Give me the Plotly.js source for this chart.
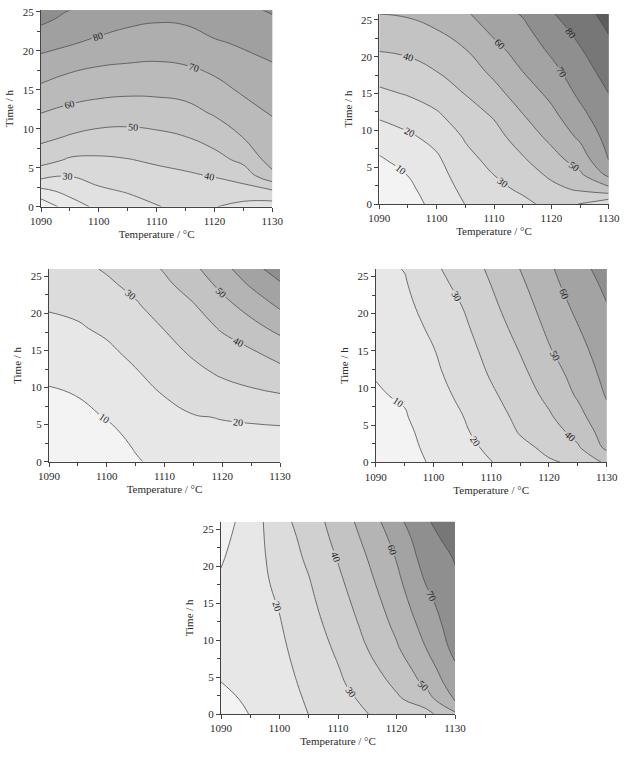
<!DOCTYPE html>
<html>
<head>
<meta charset="utf-8">
<script src="https://cdn.plot.ly/plotly-3.0.1.min.js"></script>
<style>html,body{margin:0;padding:0;background:#fff;}#chart{width:632px;height:768px;}</style>
</head>
<body>
<div id="chart"></div>
<script>
const temps = [1090, 1095, 1100, 1105, 1110, 1115, 1120, 1125, 1130];
const times = [0, 2, 4, 6, 9, 12, 15, 18, 21, 24, 26];

// Each inner array: one temperature column, values at the times above
const panel1 = [
  [3, 17, 33.6, 43.7, 52.7, 60, 67.9, 75.6, 83.6, 92, 96],
  [15, 23.2, 30.4, 38.8, 49.3, 57.2, 64.5, 72.1, 80.9, 87.4, 91.7],
  [22.5, 28.3, 33.5, 38.5, 47.1, 55.3, 62.9, 70, 77.7, 85.4, 90.5],
  [26, 30.7, 35.1, 39.6, 46.8, 54.5, 62.1, 69.1, 75.7, 82.2, 86.6],
  [29.8, 33.6, 37.4, 41.3, 48, 55.1, 62.2, 68.7, 74.8, 80.8, 84.8],
  [31, 34.9, 38.7, 43.2, 50, 56.7, 63.2, 69.6, 75.5, 81.4, 85.4],
  [30.4, 35.3, 40.6, 46.5, 54.2, 60.9, 66.6, 72.5, 78.8, 85, 89.2],
  [27, 35.7, 44.8, 52.4, 60.4, 66, 71.5, 76.4, 81.3, 86.2, 89.5],
  [25, 38.6, 57.5, 64, 67, 70.5, 74.5, 79.1, 84, 89, 92]
];
const panel2 = [
  [3, 5, 7, 8.9, 14.4, 21.3, 28.1, 34.4, 40.6, 46.5, 50.4],
  [6, 8, 10.2, 13.4, 18.3, 24.3, 30.7, 36.3, 41.9, 47.5, 51.4],
  [13, 14.8, 16.6, 18.5, 22.7, 28.5, 34.5, 40, 45.2, 50.5, 54],
  [20.2, 22.4, 24.7, 27.1, 30.8, 35.6, 40.3, 45.1, 49.9, 55.4, 59],
  [24, 27.1, 30.1, 32.7, 36.6, 40.8, 46.9, 52.1, 57.4, 62.7, 66.3],
  [27.5, 31.7, 35.3, 38.9, 44.2, 49.5, 54.7, 60, 64.1, 68.1, 71],
  [33, 37.4, 41.8, 46.2, 52.2, 57.4, 62.4, 67.1, 71.8, 76.5, 79.5],
  [29.8, 41.3, 48.5, 54.2, 61.5, 67.2, 71.9, 75.6, 79.4, 83.3, 86],
  [22, 46.9, 62.3, 70.3, 73.5, 76.7, 80, 83.75, 87.5, 91.25, 93.75]
];
const panel3 = [
  [1, 2.7, 4.5, 6.2, 8.9, 11.7, 14.7, 17.8, 20.8, 24.2, 26.4],
  [2, 3.8, 5.6, 7.5, 10.2, 13.2, 16.1, 19.1, 21.9, 25.4, 27.7],
  [3, 5.5, 8, 10.4, 13.1, 15.8, 18.5, 21.6, 25.1, 28.6, 30.9],
  [9, 10.8, 12.5, 14.2, 16.8, 19.3, 22.4, 25.7, 28.9, 32.5, 35],
  [13, 14.6, 16.2, 17.8, 20.2, 23.6, 26.9, 30.3, 34.2, 38.2, 40.8],
  [15, 16.5, 18, 19.5, 23.3, 27.6, 31.6, 35.4, 39.2, 44.4, 48],
  [16, 17.4, 18.7, 20.3, 25.9, 31.3, 36, 41, 46.7, 52.7, 56.4],
  [16.5, 17.7, 18.9, 20.8, 28, 33.9, 39.4, 46.75, 53.6, 61.4, 67],
  [17, 18.2, 19.7, 20.4, 29.5, 36.8, 44.5, 52.6, 61.3, 69.2, 74]
];
const panel4 = [
  [2, 3.6, 5.2, 6.8, 9.1, 10.5, 12.1, 13.6, 15.2, 16.8, 17.8],
  [4, 5.7, 7.4, 9.1, 11.1, 12.7, 14.3, 15.9, 17.6, 19.2, 20.3],
  [12, 13.9, 14.8, 15.7, 17, 18.3, 19.6, 21.8, 24.3, 26.7, 28.4],
  [16, 17.4, 18.7, 19.7, 21.6, 23.7, 25.8, 27.9, 30.1, 32.6, 34.2],
  [19.8, 21.7, 23.6, 25.5, 28.4, 31.1, 33.3, 35.6, 37.9, 40.2, 41.8],
  [23.6, 27.5, 30.6, 32.4, 35, 37.7, 40.4, 43, 45.7, 48.3, 50.1],
  [29, 32.2, 35.4, 38.6, 42.4, 45.6, 49.1, 51.8, 54.3, 56.8, 58.4],
  [31.5, 38.9, 43.1, 46.7, 51.1, 53.9, 56.7, 59.5, 62.3, 65.2, 67.1],
  [42, 52.1, 54.7, 57.4, 60.7, 63, 65.2, 67.4, 69.6, 71.9, 73.4]
];
const panel5 = [
  [5, 7.6, 9.8, 11, 12.3, 12.8, 12.3, 11, 9.3, 7.5, 6],
  [10.3, 11.5, 12.8, 13.8, 14.8, 15.4, 15.6, 15.5, 15.1, 14.6, 14.2],
  [15, 15.7, 16.4, 17.2, 18.3, 19.4, 20.6, 22.4, 24.2, 26, 27.2],
  [20.1, 21.1, 22.2, 23.2, 24.8, 26.3, 27.9, 29.5, 31.5, 32.9, 34],
  [25, 26.7, 28.4, 29.5, 31.6, 33.8, 36, 38.2, 40.5, 43.2, 45],
  [29.8, 32, 34.4, 36.7, 40.1, 42.6, 45, 47.5, 50, 52.5, 54],
  [35, 38.5, 41.6, 44.6, 49, 52.1, 54.9, 57.7, 60.4, 63.5, 67],
  [37, 45, 51.4, 54.8, 60, 63.5, 67.1, 70.6, 73.9, 77.1, 79],
  [48, 61.7, 65, 68.3, 72.9, 75.2, 76.8, 78.8, 80.5, 83.5, 85]
];

const xTitle = 'Temperature / °C';
const yTitle = 'Time / h';

function toRows(cols) {
  return times.map((_, j) => cols.map(c => c[j]));
}
function grayScale(hexes) {
  return hexes.map((h, i) => [i / (hexes.length - 1), h]);
}
const scaleLight = grayScale(['#f1f1f1','#e9e9e9','#e1e1e1','#d9d9d9','#cfcfcf','#c5c5c5','#bababa','#aeaeae','#a0a0a0','#8e8e8e']);
const scaleDark = grayScale(['#f3f3f3','#e7e7e7','#dcdcdc','#d0d0d0','#c3c3c3','#b4b4b4','#a3a3a3','#8f8f8f','#777777','#5c5c5c']);

const FONT = 'Liberation Serif, Times New Roman, serif';

const panels = [
  {z: panel1, cs: scaleLight, ymax: 25.2, dom: [[41, 272.3], [10.3, 206.7]]},
  {z: panel2, cs: scaleDark, ymax: 25.8, dom: [[379.3, 608.7], [14, 204]]},
  {z: panel3, cs: scaleDark, ymax: 26, dom: [[49, 280], [269, 461.7]]},
  {z: panel4, cs: scaleDark, ymax: 26, dom: [[375.7, 606.7], [269, 462.3]]},
  {z: panel5, cs: scaleDark, ymax: 26, dom: [[221, 455], [521.7, 714]]}
];

const W = 632, H = 768;
const data = [];
const layout = {
  width: W, height: H,
  margin: {l: 0, r: 0, t: 0, b: 0},
  paper_bgcolor: '#fff', plot_bgcolor: '#fff',
  showlegend: false,
  font: {family: FONT, size: 11, color: '#333'}
};

panels.forEach((p, i) => {
  const n = i === 0 ? '' : String(i + 1);
  data.push({
    type: 'contour',
    x: temps, y: times, z: toRows(p.z),
    xaxis: 'x' + n, yaxis: 'y' + n,
    autocontour: false,
    contours: {start: 10, end: 90, size: 10, coloring: 'fill', showlabels: true,
      labelfont: {family: FONT, size: 10, color: '#222'}},
    colorscale: p.cs,
    showscale: false,
    line: {color: '#4f4f4f', width: 0.8, smoothing: 1.3},
    hoverinfo: 'skip'
  });
  const axBase = {
    showgrid: false, zeroline: false, showline: true, linecolor: '#444', linewidth: 1,
    ticks: 'outside', ticklen: 4, tickwidth: 1, tickcolor: '#444',
    tickfont: {family: FONT, size: 11, color: '#2a2a2a'}
  };
  layout['xaxis' + n] = Object.assign({}, axBase, {
    anchor: 'y' + n,
    domain: [p.dom[0][0] / W, p.dom[0][1] / W],
    range: [1090, 1130], tick0: 1090, dtick: 10,
    minor: {dtick: 5, ticks: 'outside', ticklen: 3, tickcolor: '#444'},
    title: {text: xTitle, font: {family: FONT, size: 11, color: '#2a2a2a'}, standoff: 4}
  });
  layout['yaxis' + n] = Object.assign({}, axBase, {
    anchor: 'x' + n,
    domain: [1 - p.dom[1][1] / H, 1 - p.dom[1][0] / H],
    range: [0, p.ymax], tick0: 0, dtick: 5,
    minor: {dtick: 2.5, ticks: 'outside', ticklen: 3, tickcolor: '#444'},
    title: {text: yTitle, font: {family: FONT, size: 11, color: '#2a2a2a'}, standoff: 6}
  });
});

Plotly.newPlot('chart', data, layout, {staticPlot: true, displayModeBar: false});
</script>
</body>
</html>
